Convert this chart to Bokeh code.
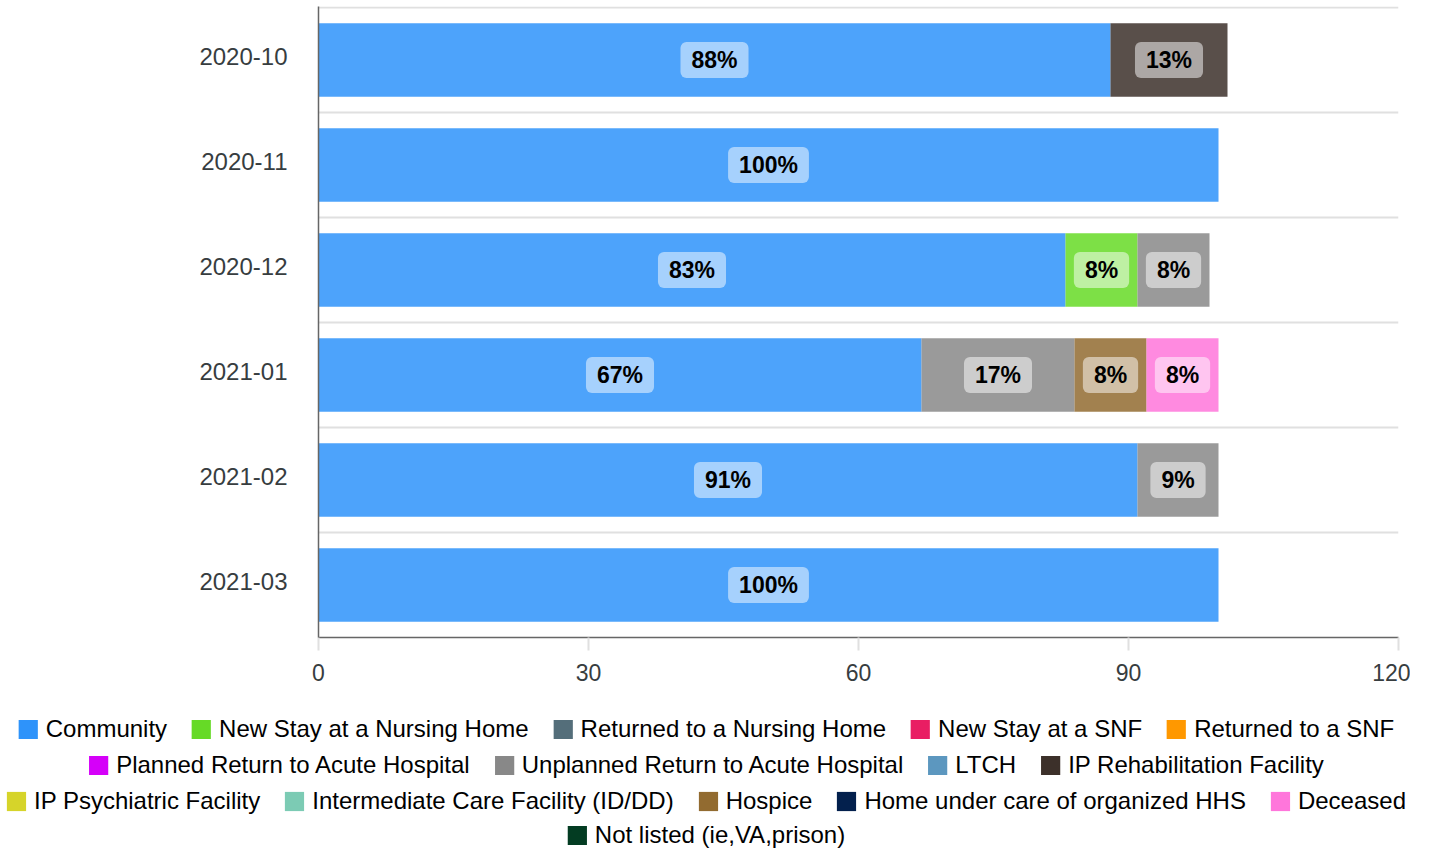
from bokeh.plotting import figure
from bokeh.models import (ColumnDataSource, Range1d, FixedTicker, Legend, LegendItem)
from bokeh.layouts import column
from bokeh.core.properties import value
from bokeh.embed import file_html
from bokeh.resources import INLINE

# ---------------- data ----------------
months = ["2020-10", "2020-11", "2020-12", "2021-01", "2021-02", "2021-03"]

series_names = [
    "Community", "New Stay at a Nursing Home", "Returned to a Nursing Home",
    "New Stay at a SNF", "Returned to a SNF", "Planned Return to Acute Hospital",
    "Unplanned Return to Acute Hospital", "LTCH", "IP Rehabilitation Facility",
    "IP Psychiatric Facility", "Intermediate Care Facility (ID/DD)", "Hospice",
    "Home under care of organized HHS", "Deceased", "Not listed (ie,VA,prison)",
]
series_colors = [
    "#2E93FA", "#66DA26", "#546E7A", "#E91E63", "#FF9800", "#D500F9",
    "#888888", "#5C97BF", "#3C302A", "#D6D42A", "#7CCBB4", "#926B30",
    "#03204D", "#FF76DB", "#033C22",
]

community          = [88, 100, 83, 67, 91, 100]
new_stay_nh        = [0, 0, 8, 0, 0, 0]
returned_nh        = [0, 0, 0, 0, 0, 0]
new_stay_snf       = [0, 0, 0, 0, 0, 0]
returned_snf       = [0, 0, 0, 0, 0, 0]
planned_return     = [0, 0, 0, 0, 0, 0]
unplanned_return   = [0, 0, 8, 17, 9, 0]
ltch               = [0, 0, 0, 0, 0, 0]
ip_rehab           = [13, 0, 0, 0, 0, 0]
ip_psych           = [0, 0, 0, 0, 0, 0]
icf                = [0, 0, 0, 0, 0, 0]
hospice            = [0, 0, 0, 8, 0, 0]
home_hhs           = [0, 0, 0, 0, 0, 0]
deceased           = [0, 0, 0, 8, 0, 0]
not_listed         = [0, 0, 0, 0, 0, 0]

series_values = [community, new_stay_nh, returned_nh, new_stay_snf, returned_snf,
                 planned_return, unplanned_return, ltch, ip_rehab, ip_psych, icf,
                 hospice, home_hhs, deceased, not_listed]

legend_rows = [
    series_names[0:5],
    series_names[5:9],
    series_names[9:14],
    series_names[14:15],
]

x_ticks = [0, 30, 60, 90, 120]

# ---------------- build ----------------
FONT = "Liberation Sans"
LABEL_COLOR = "#373d3f"
W = 1410
n = len(months)
ypos = [n - i - 0.5 for i in range(n)]
LABEL_SHIFT = 0.035  # category labels sit slightly above the bar centre

data = {"y": ypos}
keys = []
for k, vals in enumerate(series_values):
    key = f"s{k}"
    keys.append(key)
    data[key] = vals
source = ColumnDataSource(data)

p = figure(width=W, height=711, x_range=Range1d(0, 120), y_range=Range1d(0, n + 0.01),
           toolbar_location=None, output_backend="svg",
           min_border_left=318, min_border_right=12, min_border_top=6,
           min_border_bottom=74, frame_align=False)
p.outline_line_color = None

p.hbar_stack(keys, y="y", height=0.7, color=series_colors, source=source,
             fill_alpha=0.85, line_color=None)

# data labels
lx, ly, lt = [], [], []
for i in range(n):
    cum = 0
    for vals in series_values:
        v = vals[i]
        if v > 0:
            lx.append(cum + v / 2)
            ly.append(ypos[i])
            lt.append(f"{v}%")
        cum += v
lab_src = ColumnDataSource(dict(x=lx, y=ly, t=lt))
p.text(x="x", y="y", text="t", source=lab_src, text_align="center",
       text_baseline="middle", text_font=value(FONT), text_font_style="bold",
       text_font_size="23px", text_color="#000000",
       background_fill_color="white", background_fill_alpha=0.5,
       border_radius=6, padding=(11, 5))

# axes
p.xaxis.ticker = FixedTicker(ticks=x_ticks)
p.xaxis.axis_line_color = "#666666"
p.xaxis.axis_line_width = 1.5
p.xaxis.major_tick_line_color = "#e0e0e0"
p.xaxis.major_tick_line_width = 2
p.xaxis.major_tick_out = 13
p.xaxis.major_tick_in = 0
p.xaxis.minor_tick_line_color = None
p.xaxis.major_label_standoff = 13
p.xaxis.major_label_text_font = FONT
p.xaxis.major_label_text_font_size = "23px"
p.xaxis.major_label_text_color = LABEL_COLOR

ytick_pos = [y + LABEL_SHIFT for y in ypos]
p.yaxis.ticker = FixedTicker(ticks=ytick_pos)
p.yaxis.major_label_overrides = {y: m for y, m in zip(ytick_pos, months)}
p.yaxis.axis_line_color = "#666666"
p.yaxis.axis_line_width = 1.5
p.yaxis.major_tick_line_color = None
p.yaxis.minor_tick_line_color = None
p.yaxis.major_label_standoff = 25
p.yaxis.major_label_text_font = FONT
p.yaxis.major_label_text_font_size = "24px"
p.yaxis.major_label_text_color = LABEL_COLOR

p.xgrid.visible = False
p.ygrid.ticker = FixedTicker(ticks=list(range(1, n + 1)))
p.ygrid.grid_line_color = "#e0e0e0"
p.ygrid.grid_line_width = 2

# legend rows (each row centred in its own strip)
row_heights = [36, 36, 35, 33]
figs = [p]
for names, h in zip(legend_rows, row_heights):
    lf = figure(width=W, height=h, x_range=Range1d(0, 1), y_range=Range1d(0, 1),
                toolbar_location=None, output_backend="svg", min_border=0,
                min_border_left=0, min_border_right=0, min_border_top=0,
                min_border_bottom=0, frame_align=False,
                x_axis_location=None, y_axis_location=None)
    lf.grid.visible = False
    lf.outline_line_color = None
    items = []
    for name in names:
        c = series_colors[series_names.index(name)]
        # swatch-only renderer, its single box lies outside the visible range
        r = lf.quad(left=[5], right=[6], top=[6], bottom=[5], fill_color=c, line_color=None)
        items.append(LegendItem(label=name, renderers=[r]))
    leg = Legend(items=items, orientation="horizontal", location="center",
                 glyph_width=24, glyph_height=24, label_standoff=6, spacing=22,
                 padding=0, margin=0, border_line_color=None,
                 background_fill_alpha=0, label_text_font=FONT,
                 label_text_font_size="24px", label_text_color="#000000")
    lf.add_layout(leg, "center")
    figs.append(lf)

layout = column(*figs, spacing=0)
open("out.html", "w").write(file_html(layout, INLINE))
